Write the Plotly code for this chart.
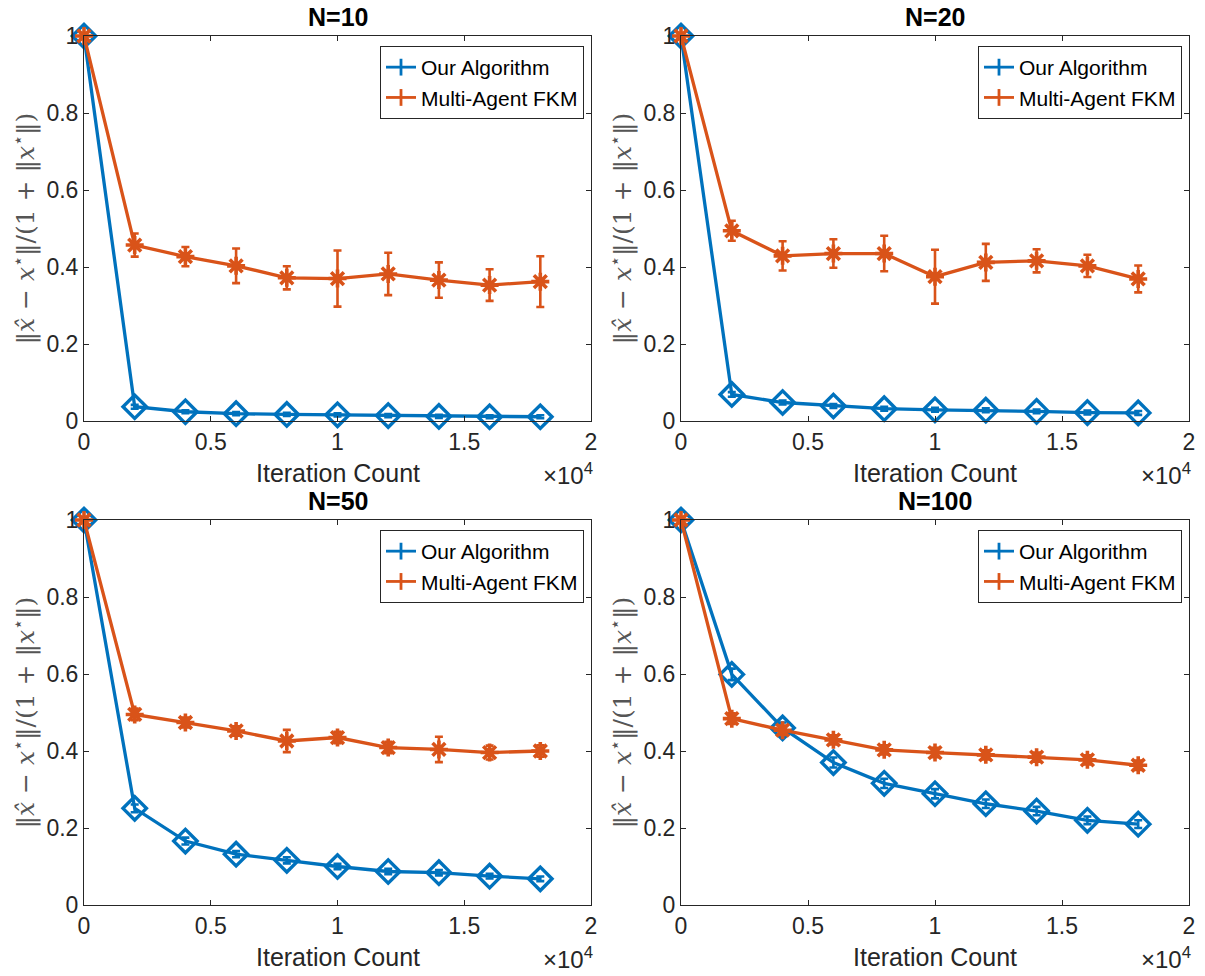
import plotly.graph_objects as go

# ---------------- data ----------------
iters = [0, 2000, 4000, 6000, 8000, 10000, 12000, 14000, 16000, 18000]

panel_titles = ["N=10", "N=20", "N=50", "N=100"]

ours_n10 = [1.0, 0.037, 0.024, 0.019, 0.017, 0.016, 0.014, 0.012, 0.011, 0.011]
ours_n10_err = [0.004, 0.005, 0.004, 0.004, 0.004, 0.004, 0.004, 0.004, 0.004, 0.004]
fkm_n10 = [1.0, 0.457, 0.427, 0.403, 0.372, 0.370, 0.382, 0.366, 0.353, 0.362]
fkm_n10_err = [0.004, 0.030, 0.025, 0.045, 0.030, 0.073, 0.055, 0.046, 0.041, 0.066]

ours_n20 = [1.0, 0.069, 0.048, 0.039, 0.032, 0.029, 0.028, 0.025, 0.022, 0.021]
ours_n20_err = [0.004, 0.006, 0.005, 0.005, 0.005, 0.005, 0.005, 0.005, 0.005, 0.005]
fkm_n20 = [1.0, 0.494, 0.429, 0.435, 0.435, 0.375, 0.412, 0.416, 0.403, 0.369]
fkm_n20_err = [0.004, 0.026, 0.038, 0.037, 0.046, 0.070, 0.048, 0.030, 0.029, 0.035]

ours_n50 = [1.0, 0.251, 0.166, 0.132, 0.116, 0.100, 0.087, 0.084, 0.075, 0.068]
ours_n50_err = [0.004, 0.010, 0.009, 0.008, 0.008, 0.007, 0.007, 0.007, 0.006, 0.006]
fkm_n50 = [1.0, 0.495, 0.474, 0.452, 0.426, 0.435, 0.409, 0.404, 0.396, 0.400]
fkm_n50_err = [0.004, 0.015, 0.013, 0.012, 0.029, 0.015, 0.015, 0.033, 0.018, 0.015]

ours_n100 = [1.0, 0.599, 0.460, 0.370, 0.316, 0.289, 0.263, 0.244, 0.220, 0.210]
ours_n100_err = [0.004, 0.015, 0.014, 0.013, 0.012, 0.012, 0.011, 0.011, 0.010, 0.010]
fkm_n100 = [1.0, 0.484, 0.454, 0.429, 0.403, 0.396, 0.390, 0.384, 0.377, 0.363]
fkm_n100_err = [0.004, 0.014, 0.012, 0.012, 0.012, 0.012, 0.012, 0.012, 0.012, 0.012]

x_tickvals = [0, 5000, 10000, 15000, 20000]
x_ticktext = ["0", "0.5", "1", "1.5", "2"]
y_tickvals = [0, 0.2, 0.4, 0.6, 0.8, 1.0]
y_ticktext = ["0", "0.2", "0.4", "0.6", "0.8", "1"]

series_names = ["Our Algorithm", "Multi-Agent FKM"]
panels = [
    (ours_n10, ours_n10_err, fkm_n10, fkm_n10_err),
    (ours_n20, ours_n20_err, fkm_n20, fkm_n20_err),
    (ours_n50, ours_n50_err, fkm_n50, fkm_n50_err),
    (ours_n100, ours_n100_err, fkm_n100, fkm_n100_err),
]

# ---------------- style / layout ----------------
W, H = 1205, 976
BLUE = "#0072BD"
ORANGE = "#D95319"
AX = "#262626"
FONT = "Liberation Sans, Arial, sans-serif"

# axes pixel boxes: (left, right, top, bottom)
boxes = [
    (84, 591, 36, 421),
    (681, 1189, 36, 421),
    (84, 591, 520, 905),
    (681, 1189, 520, 905),
]

def px(x):
    return x / W

def py(y):
    return 1 - y / H

fig = go.Figure()
layout = dict(
    width=W, height=H, autosize=False,
    margin=dict(l=0, r=0, t=0, b=0, pad=0, autoexpand=False),
    paper_bgcolor="white", plot_bgcolor="white",
    font=dict(family=FONT, color=AX, size=22),
    showlegend=True,
)
annotations = []

ylabel = "‖<i>x̂</i> − <i>x</i><sup>⋆</sup>‖/(1 + ‖<i>x</i><sup>⋆</sup>‖)"

for i, (ours, ours_err, fkm, fkm_err) in enumerate(panels):
    k = i + 1
    xa = "x" if k == 1 else f"x{k}"
    ya = "y" if k == 1 else f"y{k}"
    leg = "legend" if k == 1 else f"legend{k}"
    l, r, t, b = boxes[i]

    # main traces
    fig.add_trace(go.Scatter(
        x=iters, y=ours, mode="lines+markers", xaxis=xa, yaxis=ya,
        line=dict(color=BLUE, width=3.3),
        marker=dict(symbol="diamond-open", size=18, color=BLUE, line=dict(color=BLUE, width=3.4)),
        error_y=dict(type="data", array=ours_err, color=BLUE, thickness=2.6, width=4),
        cliponaxis=False, showlegend=False,
    ))
    fig.add_trace(go.Scatter(
        x=iters, y=fkm, mode="lines+markers", xaxis=xa, yaxis=ya,
        line=dict(color=ORANGE, width=3.3),
        marker=dict(symbol="asterisk-open", size=15, color=ORANGE, line=dict(color=ORANGE, width=3.6)),
        error_y=dict(type="data", array=fkm_err, color=ORANGE, thickness=2.6, width=4),
        cliponaxis=False, showlegend=False,
    ))
    # legend entries
    for name, col in zip(series_names, [BLUE, ORANGE]):
        fig.add_trace(go.Scatter(
            x=[None], y=[None], mode="lines+markers", name=name, xaxis=xa, yaxis=ya,
            line=dict(color=col, width=2.8),
            marker=dict(symbol="line-ns-open", size=12, color=col, line=dict(color=col, width=2.8)),
            legend=leg, showlegend=True,
        ))

    xkey = "xaxis" if k == 1 else f"xaxis{k}"
    ykey = "yaxis" if k == 1 else f"yaxis{k}"
    layout[xkey] = dict(
        domain=[px(l), px(r)], anchor=ya, range=[0, 20000], automargin=False,
        tickvals=x_tickvals, ticktext=x_ticktext,
        ticks="inside", ticklen=5, tickwidth=1, tickcolor=AX,
        showline=True, linecolor=AX, linewidth=1, mirror="ticks",
        showgrid=False, zeroline=False,
        tickfont=dict(size=23, color=AX, family=FONT),
    )
    layout[ykey] = dict(
        domain=[py(b), py(t)], anchor=xa, range=[0, 1], automargin=False,
        tickvals=y_tickvals, ticktext=y_ticktext,
        ticks="inside", ticklen=5, tickwidth=1, tickcolor=AX,
        showline=True, linecolor=AX, linewidth=1, mirror="ticks",
        showgrid=False, zeroline=False,
        tickfont=dict(size=23, color=AX, family=FONT),
    )
    layout[leg] = dict(
        x=px(r - 7), xanchor="right", y=py(t + 10), yanchor="top",
        bgcolor="white", bordercolor=AX, borderwidth=1,
        font=dict(size=21, color="black", family=FONT),
        tracegroupgap=0, itemwidth=30,
    )

    cx = (l + r) / 2
    # title
    annotations.append(dict(
        text=f"<b>{panel_titles[i]}</b>", x=px(cx), y=py(t - 19), xref="paper", yref="paper",
        xanchor="center", yanchor="middle", showarrow=False,
        font=dict(size=25, color="black", family=FONT),
    ))
    # x label
    annotations.append(dict(
        text="Iteration Count", x=px(cx), y=py(b + 52), xref="paper", yref="paper",
        xanchor="center", yanchor="middle", showarrow=False,
        font=dict(size=25, color=AX, family=FONT),
    ))
    # exponent
    annotations.append(dict(
        text="×10<sup>4</sup>", x=px(r + 4), y=py(b + 70), xref="paper", yref="paper",
        xanchor="right", yanchor="bottom", showarrow=False,
        font=dict(size=24, color=AX, family=FONT),
    ))
    # y label
    annotations.append(dict(
        text=ylabel, x=px(l - 60), y=py((t + b) / 2), xref="paper", yref="paper",
        xanchor="center", yanchor="middle", showarrow=False, textangle=-90,
        font=dict(size=25, color="#555555", family="DejaVu Serif, serif"),
    ))

layout["annotations"] = annotations
fig.update_layout(**layout)
fig.write_html(
    "out.html",
    config={"displayModeBar": False},
    post_script="document.body.style.margin='0';document.body.style.overflow='hidden';",
)
